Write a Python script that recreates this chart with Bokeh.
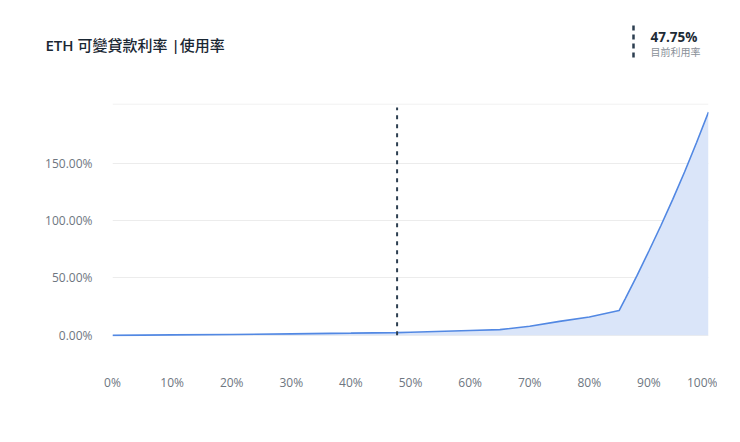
from bokeh.plotting import figure
from bokeh.models import Range1d, FixedTicker, Span, ColumnDataSource
from bokeh.core.properties import value
from bokeh.embed import file_html
from bokeh.resources import INLINE

# ---- data ----
utilization = [0, 10, 20, 30, 40, 47.75, 50, 60, 65, 70, 75, 80, 85, 86, 88, 90, 92, 94, 96, 98, 100]
borrow_rate = [0, 0.4, 0.8, 1.3, 1.9, 2.4, 2.7, 4.2, 5.0, 7.9, 12.2, 16.0, 21.6, 31.6, 52.0, 73.5, 95.5, 118.5, 142.5, 168.0, 194.6]
current_util = 47.75
x_ticks = [0, 10, 20, 30, 40, 50, 60, 70, 80, 90, 100]
x_tick_labels = ["0%", "10%", "20%", "30%", "40%", "50%", "60%", "70%", "80%", "90%", "100%"]
y_ticks = [0, 50, 100, 150]
y_tick_labels = ["0.00%", "50.00%", "100.00%", "150.00%"]
title_text = "ETH 可變貸款利率 |使用率"
current_label = "47.75%"
current_caption = "目前利用率"

FONT = "Open Sans, 'Noto Sans CJK TC', sans-serif"
TITLE_FONT = "'Open Sans SemiBold', 'Noto Sans CJK TC Medium', 'Open Sans', 'Noto Sans CJK TC', sans-serif"
W = 717
HEAD = 90

# ---- header ----
h = figure(width=W, height=HEAD, output_backend="svg", toolbar_location=None,
           x_range=Range1d(0, W), y_range=Range1d(HEAD, 0),
           min_border=0, min_border_left=0, min_border_right=0, min_border_top=0, min_border_bottom=0)
h.axis.visible = False
h.grid.visible = False
h.outline_line_color = None
h.border_fill_color = "white"
h.background_fill_color = "white"
h.text(x=[45], y=[44], text=[title_text], text_font=value(TITLE_FONT), text_font_size="15px",
       text_color="#1a2733", text_baseline="middle")
h.text(x=[650], y=[36], text=[current_label], text_font=value(FONT), text_font_size="13.5px",
       text_color="#1d2b36", text_baseline="middle", text_font_style="bold")
h.text(x=[650], y=[51], text=[current_caption], text_font=value(FONT), text_font_size="10px",
       text_color="#8a9099", text_baseline="middle")
h.segment(x0=[633], y0=[25], x1=[633], y1=[58], line_color="#2c3e50", line_width=2.5, line_dash="5 4")

# ---- main chart ----
p = figure(width=W, height=434 - HEAD, output_backend="svg", toolbar_location=None,
           x_range=Range1d(0, 100), y_range=Range1d(-1, 202),
           min_border_left=112, min_border_right=9, min_border_top=13, min_border_bottom=98)
p.outline_line_color = None
p.background_fill_color = "white"
p.border_fill_color = "white"

src = ColumnDataSource(dict(x=utilization, y=borrow_rate, y0=[0] * len(utilization)))
p.varea(x="x", y1="y0", y2="y", source=src, fill_color="#dae5f9", fill_alpha=1.0)
p.line(x="x", y="y", source=src, line_color="#5288e3", line_width=1.6)

p.add_layout(Span(location=201.5, dimension="width", line_color="#eeeeee", line_width=1))

p.segment(x0=[current_util], y0=[0], x1=[current_util], y1=[198.5],
          line_color="#2c3e50", line_width=2, line_dash="4 5")

p.xaxis.ticker = FixedTicker(ticks=x_ticks)
p.xaxis.major_label_overrides = {t: l for t, l in zip(x_ticks, x_tick_labels)}
p.yaxis.ticker = FixedTicker(ticks=y_ticks)
p.yaxis.major_label_overrides = {t: l for t, l in zip(y_ticks, y_tick_labels)}
for ax in (p.xaxis[0], p.yaxis[0]):
    ax.axis_line_color = None
    ax.major_tick_line_color = None
    ax.minor_tick_line_color = None
    ax.major_label_text_color = "#6e7681"
    ax.major_label_text_font = FONT
    ax.major_label_text_font_size = "12px"
p.xaxis.major_label_standoff = 31
p.yaxis.major_label_standoff = 14
p.xgrid.grid_line_color = None
p.ygrid.grid_line_color = "#ececec"
p.ygrid.grid_line_width = 1

open("out.html", "w").write(file_html([h, p], INLINE))
